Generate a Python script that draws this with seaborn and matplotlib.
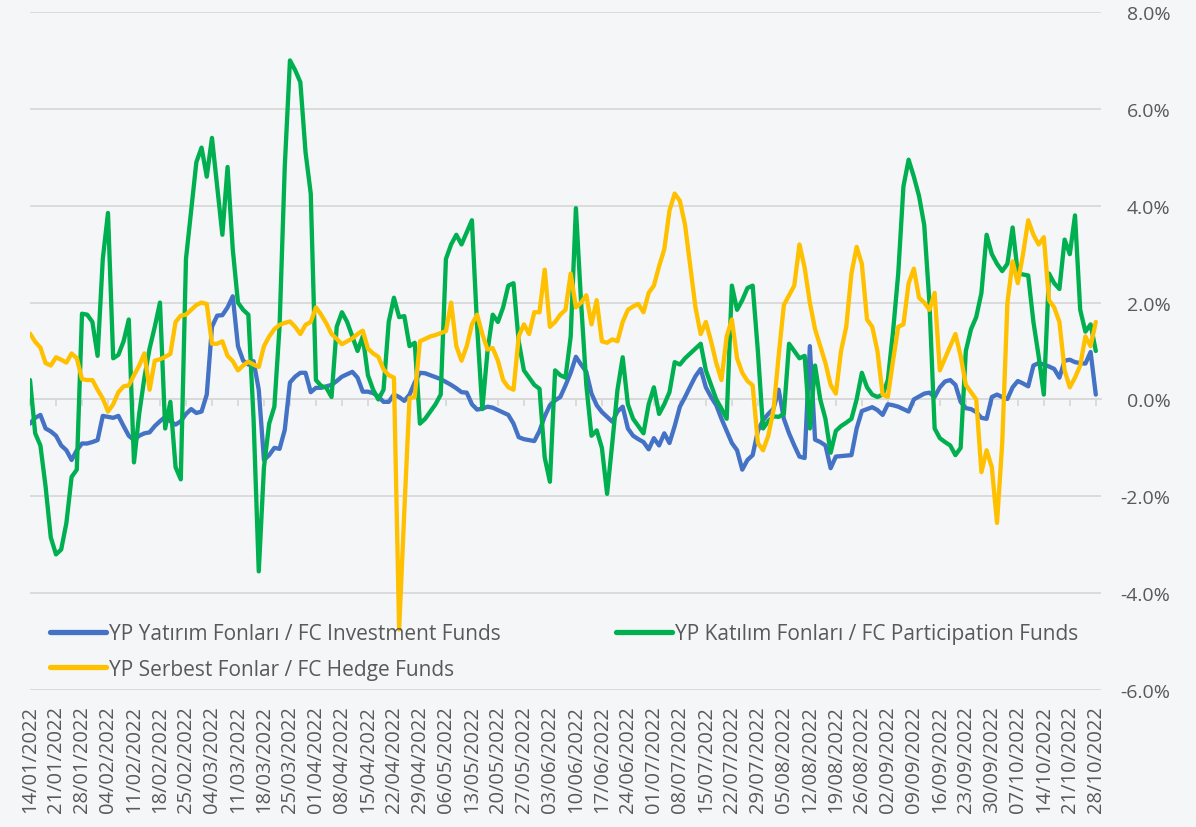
import pandas as pd
import matplotlib.pyplot as plt
import seaborn as sns
from matplotlib.lines import Line2D

# business days shown on the chart (category axis, a label every 5 days)
dates = pd.bdate_range('2022-01-14', '2022-10-28')

series_names = ['YP Yatırım Fonları / FC Investment Funds',
                'YP Katılım Fonları / FC Participation Funds',
                'YP Serbest Fonlar / FC Hedge Funds']
series_colors = ['#4472C4', '#00B050', '#FFC000']

# daily values, %
investment = [
    -0.50, -0.38, -0.32, -0.60, -0.66, -0.75, -0.95, -1.05, -1.25, -1.05,
    -0.91, -0.91, -0.88, -0.84, -0.34, -0.36, -0.38, -0.34, -0.55, -0.75,
    -0.84, -0.75, -0.70, -0.68, -0.55, -0.45, -0.36, -0.45, -0.52, -0.45,
    -0.30, -0.20, -0.28, -0.25, 0.10, 1.50, 1.73, 1.74, 1.90, 2.13,
    1.10, 0.80, 0.72, 0.79, 0.20, -1.25, -1.15, -1.00, -1.02, -0.63,
    0.35, 0.47, 0.55, 0.55, 0.15, 0.24, 0.24, 0.27, 0.30, 0.38,
    0.47, 0.52, 0.57, 0.45, 0.16, 0.16, 0.13, 0.06, -0.05, -0.05,
    0.10, 0.05, -0.03, 0.10, 0.35, 0.55, 0.54, 0.50, 0.46, 0.42,
    0.36, 0.30, 0.23, 0.15, 0.14, -0.10, -0.21, -0.19, -0.15, -0.17,
    -0.22, -0.27, -0.32, -0.50, -0.78, -0.82, -0.84, -0.86, -0.65, -0.35,
    -0.12, -0.02, 0.05, 0.29, 0.55, 0.88, 0.72, 0.57, 0.12, -0.12,
    -0.26, -0.36, -0.46, -0.25, -0.15, -0.60, -0.75, -0.82, -0.88, -1.03,
    -0.80, -0.95, -0.70, -0.90, -0.55, -0.15, 0.05, 0.27, 0.48, 0.63,
    0.25, 0.05, -0.12, -0.40, -0.65, -0.90, -1.05, -1.45, -1.25, -1.15,
    -0.65, -0.43, -0.30, -0.19, 0.20, -0.40, -0.70, -0.95, -1.18, -1.21,
    1.10, -0.83, -0.88, -0.95, -1.42, -1.18, -1.17, -1.16, -1.15, -0.60,
    -0.24, -0.20, -0.16, -0.22, -0.32, -0.10, -0.12, -0.15, -0.20, -0.25,
    0.00, 0.06, 0.12, 0.14, 0.05, 0.25, 0.37, 0.40, 0.30, -0.05,
    -0.18, -0.20, -0.26, -0.38, -0.40, 0.05, 0.10, 0.05, 0.01, 0.25,
    0.38, 0.33, 0.27, 0.70, 0.75, 0.72, 0.68, 0.63, 0.45, 0.80,
    0.82, 0.77, 0.75, 0.74, 0.98, 0.10,
]

participation = [
    0.40, -0.70, -0.95, -1.80, -2.85, -3.20, -3.10, -2.55, -1.60, -1.45,
    1.77, 1.75, 1.60, 0.90, 2.90, 3.85, 0.85, 0.92, 1.20, 1.65,
    -1.30, -0.30, 0.45, 1.05, 1.50, 2.00, -0.60, -0.05, -1.40, -1.65,
    2.90, 3.90, 4.90, 5.20, 4.60, 5.40, 4.40, 3.40, 4.80, 3.10,
    2.00, 1.85, 1.75, -0.40, -3.55, -1.40, -0.50, -0.15, 1.50, 4.80,
    7.00, 6.80, 6.55, 5.10, 4.25, 0.40, 0.28, 0.24, 0.05, 1.50,
    1.80, 1.60, 1.30, 1.00, 1.30, 0.50, 0.20, 0.00, 0.20, 1.60,
    2.10, 1.70, 1.72, 1.10, 1.17, -0.50, -0.40, -0.25, -0.10, 0.10,
    2.90, 3.20, 3.40, 3.20, 3.45, 3.70, 1.50, -0.20, 1.00, 1.75,
    1.60, 1.90, 2.35, 2.40, 1.20, 0.60, 0.45, 0.30, 0.22, -1.20,
    -1.70, 0.60, 0.50, 0.45, 1.30, 3.95, 2.00, 0.30, -0.75, -0.64,
    -1.00, -1.95, -0.90, 0.20, 0.87, -0.10, -0.40, -0.55, -0.70, -0.10,
    0.25, -0.30, -0.10, 0.15, 0.77, 0.72, 0.85, 0.95, 1.05, 1.15,
    0.60, 0.30, 0.00, -0.19, -0.40, 2.35, 1.85, 2.05, 2.30, 2.35,
    1.00, -0.60, -0.45, -0.35, -0.36, -0.30, 1.15, 1.00, 0.85, 0.90,
    -0.60, 0.70, 0.00, -0.40, -1.10, -0.65, -0.55, -0.48, -0.40, 0.00,
    0.55, 0.25, 0.10, 0.05, 0.10, 0.40, 1.40, 2.60, 4.40, 4.95,
    4.60, 4.20, 3.60, 2.00, -0.60, -0.80, -0.88, -0.95, -1.15, -1.00,
    1.00, 1.45, 1.70, 2.20, 3.40, 3.00, 2.80, 2.65, 2.80, 3.55,
    2.60, 2.58, 2.56, 1.60, 0.90, 0.10, 2.60, 2.40, 2.28, 3.30,
    3.00, 3.80, 1.85, 1.40, 1.55, 1.00,
]

hedge = [
    1.36, 1.19, 1.07, 0.75, 0.70, 0.87, 0.82, 0.76, 0.95, 0.85,
    0.42, 0.40, 0.40, 0.20, 0.02, -0.25, -0.10, 0.15, 0.27, 0.29,
    0.50, 0.70, 0.95, 0.20, 0.80, 0.83, 0.88, 0.94, 1.60, 1.73,
    1.75, 1.85, 1.95, 2.00, 1.97, 1.15, 1.15, 1.20, 0.90, 0.79,
    0.60, 0.70, 0.78, 0.72, 0.67, 1.10, 1.30, 1.45, 1.54, 1.58,
    1.61, 1.50, 1.35, 1.54, 1.60, 1.90, 1.75, 1.57, 1.35, 1.25,
    1.14, 1.20, 1.26, 1.35, 1.42, 1.05, 0.95, 0.88, 0.62, 0.50,
    0.45, -4.75, -2.30, 0.03, 0.05, 1.20, 1.25, 1.30, 1.33, 1.37,
    1.41, 2.00, 1.10, 0.80, 1.10, 1.55, 1.75, 1.35, 1.03, 1.06,
    0.80, 0.40, 0.25, 0.20, 1.30, 1.55, 1.35, 1.80, 1.80, 2.68,
    1.50, 1.60, 1.75, 1.85, 2.60, 1.90, 2.00, 2.15, 1.55, 2.05,
    1.20, 1.17, 1.24, 1.20, 1.60, 1.85, 1.92, 1.97, 1.80, 2.20,
    2.35, 2.75, 3.10, 3.90, 4.25, 4.10, 3.60, 2.75, 1.90, 1.35,
    1.60, 1.20, 0.75, 0.40, 1.30, 1.65, 0.85, 0.55, 0.38, 0.29,
    -0.90, -1.05, -0.75, -0.22, 0.90, 1.95, 2.15, 2.35, 3.20, 2.72,
    2.00, 1.45, 1.10, 0.75, 0.30, 0.12, 1.00, 1.50, 2.60, 3.15,
    2.80, 1.65, 1.50, 1.00, 0.10, 0.05, 0.80, 1.50, 1.55, 2.40,
    2.70, 2.10, 2.00, 1.85, 2.20, 0.60, 0.85, 1.10, 1.35, 0.90,
    0.30, 0.15, 0.00, -1.50, -1.05, -1.40, -2.55, -0.90, 2.00, 2.85,
    2.40, 3.00, 3.70, 3.40, 3.20, 3.35, 2.05, 1.90, 1.60, 0.60,
    0.25, 0.45, 0.70, 1.30, 1.10, 1.60,
]

y_ticks = [-6, -4, -2, 0, 2, 4, 6, 8]

df = pd.DataFrame({'Day': range(len(dates)),
                   series_names[0]: investment,
                   series_names[1]: participation,
                   series_names[2]: hedge})
long_df = df.melt(id_vars='Day', var_name='Series', value_name='Value')

sns.set_theme(style='white')
plt.rcParams['font.family'] = ['Open Sans', 'DejaVu Sans']

text_color = '#595959'
grid_color = '#d9d9d9'

fig = plt.figure(figsize=(11.96, 8.28), dpi=100, facecolor='#f5f6f8')
ax = fig.add_axes([30 / 1196, 137 / 828, 1071 / 1196, 678 / 828])
ax.set_facecolor('none')

sns.lineplot(data=long_df, x='Day', y='Value', hue='Series',
             hue_order=series_names, palette=series_colors,
             linewidth=3.1, legend=False, ax=ax)
for line in ax.lines:
    line.set_solid_joinstyle('round')
    line.set_solid_capstyle('round')

ax.set_xlim(0, len(dates))
ax.set_ylim(-6, 8)
ax.set_xlabel('')
ax.set_ylabel('')

tick_pos = list(range(0, len(dates), 5))
ax.set_xticks(tick_pos)
ax.set_xticklabels(dates[::5].strftime('%d/%m/%Y'), rotation=90)
ax.tick_params(axis='x', length=0, pad=11, labelsize=14.5, labelcolor=text_color)

ax.yaxis.tick_right()
ax.set_yticks(y_ticks)
ax.set_yticklabels([f'{v:.1f}%' for v in y_ticks], ha='right')
ax.tick_params(axis='y', length=0, pad=50, labelsize=14, labelcolor=text_color)

ax.grid(axis='y', color=grid_color, linewidth=1.3)
ax.grid(axis='x', visible=False)
ax.set_axisbelow(True)
for s in ax.spines.values():
    s.set_visible(False)

# category axis crossing at 0% with small tick marks
zero_axis = ax.secondary_xaxis(6 / 14)
zero_axis.set_xticks(tick_pos)
zero_axis.tick_params(length=5, width=1.3, color=grid_color, labelbottom=False)
zero_axis.spines['bottom'].set_color(grid_color)
zero_axis.spines['bottom'].set_linewidth(1.3)

# legend: row 1 investment + participation, row 2 hedge
order = [0, 2, 1]
handles = [Line2D([], [], color=series_colors[i], linewidth=3.8) for i in order]
labels = [series_names[i] for i in order]
fig.legend(handles, labels, ncol=2, loc='upper left',
           bbox_to_anchor=(50 / 1196, 1 - 624 / 828),
           frameon=False, fontsize=15, labelcolor=text_color,
           handlelength=2.7, handletextpad=0.15, columnspacing=5.5,
           labelspacing=0.7, borderpad=0, borderaxespad=0)

fig.savefig('out.png', dpi=100, facecolor=fig.get_facecolor())
